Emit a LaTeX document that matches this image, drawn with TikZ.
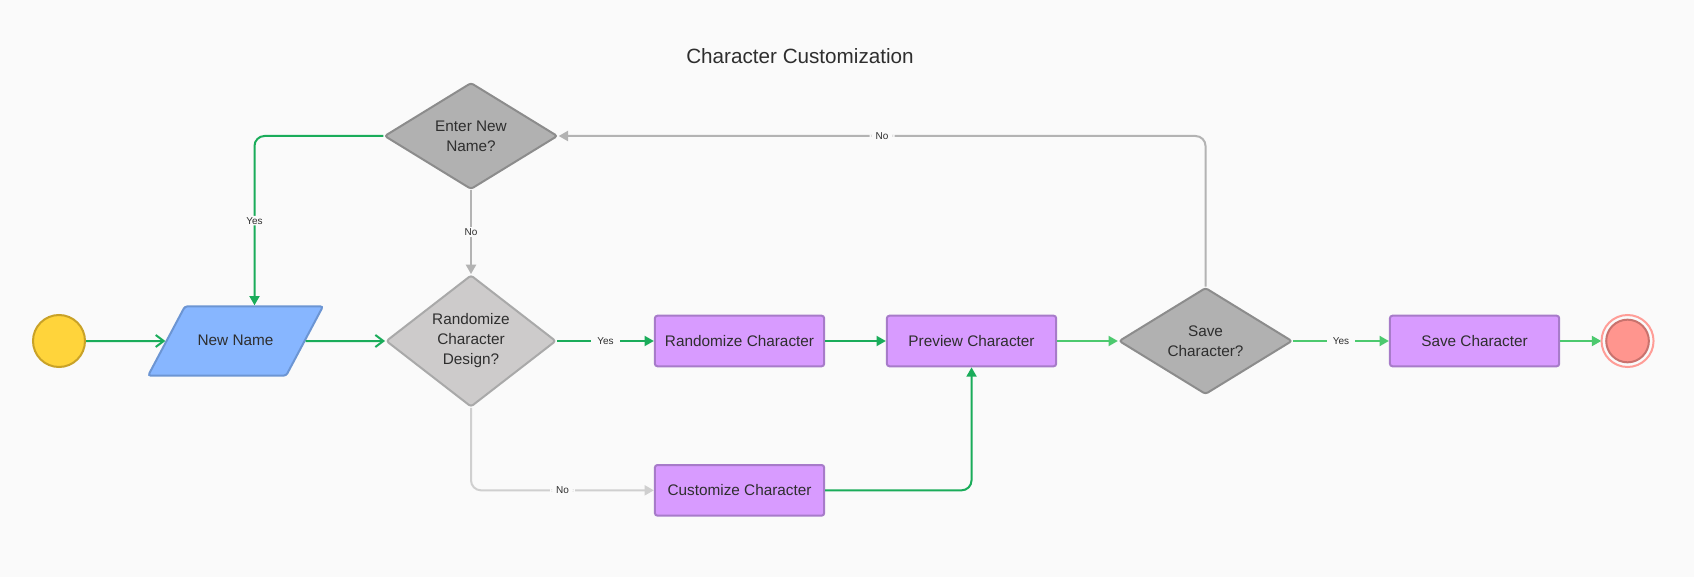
\documentclass[tikz,border=0pt]{standalone}
\usepackage{tikz}
\usepackage{fontspec}
\setmainfont{Liberation Sans}
\usetikzlibrary{arrows.meta,shapes.geometric}
\definecolor{bg}{HTML}{FAFAFA}
\definecolor{cgreen}{HTML}{1AAC5A}
\definecolor{lgreen}{HTML}{4CC96E}
\definecolor{cgray}{HTML}{B3B3B3}
\definecolor{lgray}{HTML}{CFCFCF}
\definecolor{txt}{HTML}{2E2E2E}

\begin{document}
\begin{tikzpicture}[x=0.75pt,y=-0.75pt,>={Triangle[length=7pt,width=7.5pt]},
  line width=1.5pt,node distance=1.5cm,
  every node/.style={text=txt,font=\fontsize{11.5}{15}\selectfont},
  start node/.style={circle,fill={rgb,255:red,255;green,212;blue,59},draw={rgb,255:red,201;green,162;blue,39},
    minimum size=39pt,inner sep=0pt},
  input node/.style={trapezium,trapezium left angle=62,trapezium right angle=118,
    fill={rgb,255:red,135;green,182;blue,255},draw={rgb,255:red,108;green,149;blue,211},
    rounded corners=2pt,text height=8pt,text depth=2pt,inner xsep=9.5pt,inner ysep=21pt},
  decision node/.style={diamond,align=center,inner sep=0pt,rounded corners=2pt,
    fill={rgb,255:red,177;green,177;blue,177},draw={rgb,255:red,140;green,140;blue,140},
    minimum width=130pt,minimum height=80pt},
  light decision/.style={decision node,fill={rgb,255:red,205;green,203;blue,203},
    draw={rgb,255:red,169;green,169;blue,169},minimum width=127.5pt,minimum height=96pt},
  step node/.style={rectangle,rounded corners=2pt,fill={rgb,255:red,216;green,155;blue,255},
    draw={rgb,255:red,167;green,123;blue,201},minimum width=127pt,minimum height=38pt},
  end node/.style={circle,fill={rgb,255:red,255;green,149;blue,142},
    draw={rgb,255:red,201;green,114;blue,109},minimum size=32pt,inner sep=0pt},
  lbl/.style={fill=bg,inner xsep=4.5pt,inner ysep=1pt,font=\fontsize{7.5}{9}\selectfont},
  route/.style={rounded corners=7.5pt},
  open/.style={-{Straight Barb[length=6pt,width=9pt]}}]
  \useasboundingbox[fill=bg] (0,0) rectangle (1694,577);
  \node (0) at (800,56) {\fontsize{15.5}{18}\selectfont Character Customization};

  \node[start node] (1) at (59,341) {};
  \node[input node] (2) [right of=1,node distance=132.4pt] {New Name};
  \node[light decision] (3) [right of=2,node distance=176.6pt] {Randomize\\Character\\Design?};
  \node[decision node] (4) [above of=3,node distance=153.75pt] {Enter New\\Name?};
  \node[step node] (5) [right of=3,node distance=201.4pt] {Randomize Character};
  \node[step node] (6) [below of=5,node distance=112pt] {Customize Character};
  \node[step node] (7) [right of=5,node distance=174pt] {Preview Character};
  \node[decision node] (8) [right of=7,node distance=175.5pt] {Save\\Character?};
  \node[step node] (9) [right of=8,node distance=201.75pt] {Save Character};
  \node[end node] (10) [right of=9,node distance=114.75pt] {};
  \draw[draw={rgb,255:red,255;green,157;blue,151}] (10.center) circle (19.5pt);

  \path[->]
    (1) edge[cgreen,open] (2)
    (2) edge[cgreen,open] (3)
    (4) edge[cgray] node[lbl] {No} (3)
    (3) edge[cgreen] node[lbl] {Yes} (5)
    (5) edge[cgreen] (7)
    (7) edge[lgreen] (8)
    (8) edge[lgreen] node[lbl] {Yes} (9)
    (9) edge[lgreen,shorten >=3pt] (10);

  \draw[route,cgreen,->] (4.west) -| node[lbl,pos=0.75] {Yes} (2.top side);
  \draw[route,cgray,->] (8.north) |- node[lbl,pos=0.75] {No} (4.east);
  \draw[route,lgray,->] (3.south) |- node[lbl,pos=0.75] {No} (6.west);
  \draw[route,cgreen,->] (6.east) -| (7.south);
\end{tikzpicture}
\end{document}
